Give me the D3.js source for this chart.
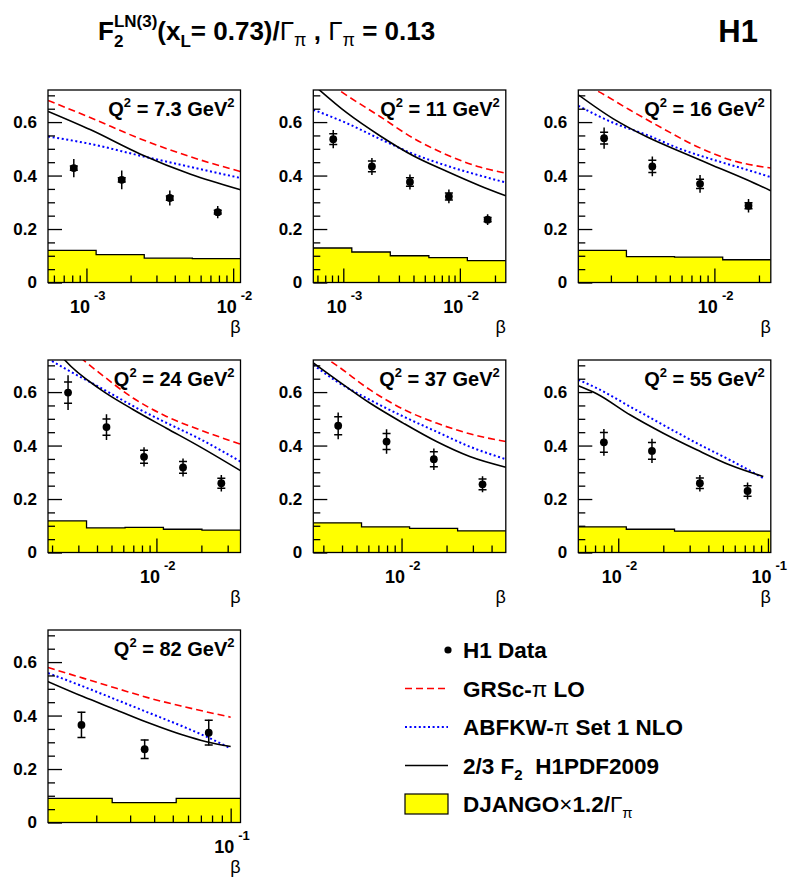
<!DOCTYPE html>
<html><head><meta charset="utf-8">
<script src="https://cdn.jsdelivr.net/npm/d3@7"></script>
<style>
body{margin:0;background:#fff;}
svg{display:block;}
text{font-family:"Liberation Sans", Arial, Helvetica, sans-serif;}
</style></head><body>
<svg id="c" width="790" height="877"></svg>
<script>
// ---------------- data ----------------
const q2Labels = ["7.3","11","16","24","37","55","82"];
const xDomains = [[5.47e-4,0.01122],[5.53e-4,0.02477],[1.205e-3,0.02404],[1.879e-3,0.03656],[2.57e-3,0.0498],[5.41e-3,0.1045],[0.01122,0.1125]];
const yDomain = [0, 0.72];
const yMajorTicks = [0,0.2,0.4,0.6];
const yTickLabels = ["0","0.2","0.4","0.6"];
const yMinorTicks = [0.05,0.1,0.15,0.25,0.3,0.35,0.45,0.5,0.55,0.65,0.7];

// H1 data points
const dataBeta = [
  [8.2e-4,1.74e-3,3.7e-3,7.85e-3],
  [8.2e-4,1.76e-3,3.73e-3,8.05e-3,1.73e-2],
  [1.8e-3,3.81e-3,8.0e-3,1.7e-2],
  [2.56e-3,4.63e-3,8.26e-3,1.507e-2,2.72e-2],
  [3.77e-3,7.94e-3,1.645e-2,3.48e-2],
  [8.02e-3,1.68e-2,3.51e-2,7.31e-2],
  [1.675e-2,3.57e-2,7.69e-2]
];
const dataF2 = [
  [0.428,0.384,0.316,0.263],
  [0.536,0.434,0.376,0.322,0.235],
  [0.540,0.434,0.369,0.287],
  [0.598,0.469,0.358,0.318,0.259],
  [0.474,0.415,0.349,0.255],
  [0.412,0.380,0.259,0.230],
  [0.365,0.274,0.336]
];
const dataStat = [
  [0.008,0.008,0.008,0.007],
  [0.020,0.020,0.016,0.013,0.008],
  [0.022,0.023,0.017,0.011],
  [0.040,0.030,0.024,0.022,0.019],
  [0.034,0.030,0.028,0.020],
  [0.037,0.031,0.020,0.020],
  [0.047,0.035,0.046]
];
const dataTot = [
  [0.034,0.035,0.028,0.023],
  [0.034,0.032,0.028,0.026,0.020],
  [0.040,0.037,0.033,0.025],
  [0.065,0.048,0.036,0.034,0.031],
  [0.050,0.046,0.040,0.030],
  [0.050,0.045,0.031,0.032],
  [0.049,0.036,0.048]
];

// DJANGO x1.2/Gamma_pi histogram
const djangoEdges = [
  [5.47e-4,1.164e-3,2.477e-3,5.27e-3,1.122e-2],
  [5.53e-4,1.183e-3,2.53e-3,5.42e-3,1.159e-2,2.477e-2],
  [1.205e-3,2.547e-3,5.38e-3,1.138e-2,2.404e-2],
  [1.879e-3,3.404e-3,6.166e-3,1.114e-2,2.018e-2,3.656e-2],
  [2.57e-3,5.4e-3,1.132e-2,2.371e-2,4.98e-2],
  [5.41e-3,1.132e-2,2.377e-2,4.98e-2,0.1045],
  [0.01122,0.0242,0.0521,0.1125]
];
const djangoVals = [
  [0.120,0.104,0.091,0.089],
  [0.129,0.114,0.100,0.093,0.082],
  [0.120,0.097,0.095,0.085],
  [0.118,0.092,0.094,0.087,0.084],
  [0.111,0.096,0.090,0.081],
  [0.096,0.087,0.080,0.080],
  [0.090,0.074,0.090]
];

// GRSc-pi LO
const grsBeta = [
  [5.48e-4,1.069e-3,2.339e-3,5.129e-3,1.122e-2],
  [5.53e-4,9.06e-4,1.069e-3,2.061e-3,3.981e-3,7.69e-3,1.483e-2,2.477e-2],
  [1.205e-3,1.563e-3,2.692e-3,4.519e-3,7.60e-3,1.276e-2,2.404e-2],
  [1.879e-3,3.221e-3,4.169e-3,6.966e-3,1.167e-2,1.950e-2,3.656e-2],
  [2.570e-3,3.236e-3,3.681e-3,6.137e-3,1.026e-2,1.714e-2,2.858e-2,4.977e-2],
  [],
  [1.122e-2,1.706e-2,2.547e-2,3.793e-2,5.649e-2,0.1]
];
const grsVals = [
  [0.681,0.616,0.537,0.470,0.415],
  [0.78,0.721,0.70,0.621,0.540,0.478,0.432,0.409],
  [0.75,0.721,0.645,0.575,0.509,0.459,0.428],
  [0.84,0.721,0.671,0.578,0.509,0.459,0.405],
  [0.76,0.721,0.70,0.609,0.536,0.484,0.444,0.415],
  [],
  [0.58,0.54,0.502,0.465,0.434,0.394]
];
// ABFKW-pi Set 1 NLO
const abfBeta = [
  [5.48e-4,1.069e-3,2.339e-3,5.129e-3,1.122e-2],
  [5.53e-4,1.069e-3,2.061e-3,3.981e-3,7.69e-3,1.483e-2,2.477e-2],
  [1.205e-3,2.080e-3,3.491e-3,5.86e-3,9.84e-3,1.656e-2,2.404e-2],
  [1.879e-3,2.495e-3,4.169e-3,6.966e-3,1.167e-2,1.950e-2,3.656e-2],
  [2.570e-3,3.681e-3,6.137e-3,1.026e-2,1.714e-2,2.858e-2,4.977e-2],
  [5.408e-3,7.178e-3,1.197e-2,2.0e-2,3.342e-2,5.572e-2,9.311e-2],
  [1.122e-2,1.706e-2,2.547e-2,3.793e-2,5.649e-2,7.482e-2,0.1]
];
const abfVals = [
  [0.546,0.518,0.474,0.432,0.391],
  [0.646,0.596,0.537,0.481,0.437,0.400,0.374],
  [0.661,0.597,0.552,0.500,0.459,0.422,0.394],
  [0.725,0.685,0.618,0.548,0.485,0.425,0.340],
  [0.702,0.640,0.571,0.509,0.452,0.396,0.349],
  [0.646,0.615,0.546,0.477,0.409,0.346,0.278],
  [0.559,0.509,0.459,0.409,0.359,0.321,0.277]
];
// 2/3 F2 H1PDF2009
const h1Beta = [
  [5.48e-4,1.069e-3,2.339e-3,5.129e-3,1.122e-2],
  [5.53e-4,1.069e-3,2.061e-3,3.981e-3,7.69e-3,1.483e-2,2.477e-2],
  [1.205e-3,2.080e-3,3.491e-3,5.86e-3,9.84e-3,1.656e-2,2.404e-2],
  [1.879e-3,2.432e-3,4.169e-3,6.966e-3,1.167e-2,1.950e-2,3.656e-2],
  [2.570e-3,3.681e-3,6.137e-3,1.026e-2,1.714e-2,2.858e-2,4.977e-2],
  [5.408e-3,7.178e-3,1.197e-2,2.0e-2,3.342e-2,5.572e-2,9.311e-2],
  [1.122e-2,1.706e-2,2.547e-2,3.793e-2,5.649e-2,7.482e-2,0.1]
];
const h1Vals = [
  [0.640,0.571,0.480,0.405,0.347],
  [0.74,0.635,0.549,0.474,0.416,0.362,0.324],
  [0.702,0.612,0.545,0.490,0.437,0.384,0.343],
  [0.80,0.72,0.612,0.535,0.465,0.396,0.306],
  [0.709,0.646,0.559,0.484,0.415,0.359,0.319],
  [0.624,0.594,0.515,0.446,0.384,0.327,0.284],
  [0.527,0.471,0.421,0.371,0.327,0.302,0.284]
];

// ---------------- layout ----------------
const colX = [48, 313.3, 578.3], rowY = [90, 360, 630];
const PW = 192.5, PH = 192.5;
const SANS = '"Liberation Sans", Arial, Helvetica, sans-serif';
const SERIF = '"Liberation Serif", "Times New Roman", serif';

const svg = d3.select("#c");
svg.append("rect").attr("width",790).attr("height",877).attr("fill","#fff");

function rich(parent, x, y, parts, anchor){
  const g = parent.append("g");
  let cur = 0, prevStart = 0;
  parts.forEach(p => {
    const sx = (p.stack ? prevStart : cur) + (p.dx||0);
    const t = g.append("text").attr("x", sx).attr("y", p.dy||0)
      .attr("font-size", p.size)
      .attr("font-weight", p.weight || "bold")
      .attr("font-family", p.serif ? SERIF : SANS)
      .attr("fill", "#000")
      .text(p.t);
    const w = t.node().getComputedTextLength();
    if (!p.stack) prevStart = sx;
    cur = Math.max(cur, sx + w);
  });
  const off = anchor === "end" ? -cur : anchor === "middle" ? -cur/2 : 0;
  g.attr("transform", `translate(${x+off},${y})`);
  return g;
}

function drawPanel(i){
  const c = i % 3, r = Math.floor(i/3);
  const g = svg.append("g").attr("transform", `translate(${colX[c]},${rowY[r]})`);
  const x = d3.scaleLog().domain(xDomains[i]).range([0, PW]);
  const y = d3.scaleLinear().domain(yDomain).range([PH, 0]);
  const cid = "clip" + i;
  g.append("clipPath").attr("id", cid).append("rect").attr("width", PW).attr("height", PH);
  const inner = g.append("g").attr("clip-path", `url(#${cid})`);

  // histogram
  const edges = djangoEdges[i], vals = djangoVals[i];
  const steps = [];
  vals.forEach((v,k) => { steps.push([edges[k], v]); steps.push([edges[k+1], v]); });
  inner.append("path").datum(steps)
    .attr("d", d3.area().x(d => x(d[0])).y0(y(0)).y1(d => y(d[1])))
    .attr("fill", "#ffff00");
  inner.append("path").datum(steps)
    .attr("d", d3.line().x(d => x(d[0])).y(d => y(d[1])))
    .attr("fill", "none").attr("stroke", "#000").attr("stroke-width", 1.3);

  // axes ticks
  const all = x.ticks();
  const isMajor = v => Math.abs(Math.log10(v) - Math.round(Math.log10(v))) < 1e-6;
  const majors = all.filter(isMajor), minors = all.filter(v => !isMajor(v));
  const styleAxis = sel => { sel.select(".domain").remove(); sel.selectAll("line").attr("stroke","#000").attr("stroke-width",1.3); };
  g.append("g").attr("transform", `translate(0,${PH})`)
    .call(d3.axisBottom(x).tickValues(minors).tickSize(-7).tickFormat(""))
    .call(styleAxis);
  g.append("g").attr("transform", `translate(0,${PH})`)
    .call(d3.axisBottom(x).tickValues(majors).tickSize(-14).tickFormat(""))
    .call(styleAxis);
  g.append("g")
    .call(d3.axisLeft(y).tickValues(yMinorTicks).tickSize(-7).tickFormat(""))
    .call(styleAxis);
  const ya = g.append("g")
    .call(d3.axisLeft(y).tickValues(yMajorTicks).tickSize(-14).tickPadding(11).tickFormat((d,k) => yTickLabels[k]))
    .call(styleAxis);
  ya.selectAll("text").attr("font-size", 17).attr("font-weight", "bold").attr("font-family", SANS).attr("fill","#000");

  // x tick labels 10^n
  majors.forEach(m => {
    const e = Math.round(Math.log10(m));
    g.append("text").attr("x", x(m) + 3.5).attr("y", PH + 30).attr("text-anchor","end")
      .attr("font-size", 18).attr("font-weight","bold").attr("font-family", SANS).text("10");
    g.append("text").attr("x", x(m) + 7.5).attr("y", PH + 17)
      .attr("font-size", 13).attr("font-weight","bold").attr("font-family", SANS).text(String(e));
  });
  g.append("text").attr("x", PW).attr("y", PH + 50).attr("text-anchor","end")
    .attr("font-size", 18).attr("font-family", SERIF).text("β");

  // curves
  const line = d3.line().x(d => x(d[0])).y(d => y(d[1])).curve(d3.curveMonotoneX);
  const curves = [
    [grsBeta[i], grsVals[i], "#ff0000", 1.6, "7,4"],
    [abfBeta[i], abfVals[i], "#0000ff", 2, "2,2.6"],
    [h1Beta[i], h1Vals[i], "#000000", 1.6, null]
  ];
  curves.forEach(([bs, vs, col, w, dash]) => {
    if (!bs.length) return;
    const pts = bs.map((b,k) => [b, vs[k]]);
    const p = inner.append("path").datum(pts).attr("d", line)
      .attr("fill","none").attr("stroke", col).attr("stroke-width", w);
    if (dash) p.attr("stroke-dasharray", dash);
  });

  // data points
  const pg = inner.append("g");
  dataBeta[i].forEach((b,k) => {
    const v = dataF2[i][k], st = dataStat[i][k], tt = dataTot[i][k];
    const px = x(b);
    pg.append("line").attr("x1", px).attr("x2", px).attr("y1", y(v - tt)).attr("y2", y(v + tt))
      .attr("stroke","#000").attr("stroke-width",1.5);
    [v - st, v + st].forEach(e => {
      pg.append("line").attr("x1", px - 4).attr("x2", px + 4).attr("y1", y(e)).attr("y2", y(e))
        .attr("stroke","#000").attr("stroke-width",1.5);
    });
    pg.append("circle").attr("cx", px).attr("cy", y(v)).attr("r", 3.9).attr("fill","#000");
  });

  // frame
  g.append("rect").attr("width", PW).attr("height", PH).attr("fill","none")
    .attr("stroke","#000").attr("stroke-width",1.3);

  // Q2 label
  rich(g, PW - 6, 26, [
    {t:"Q", size:20},
    {t:"2", size:13, dy:-9},
    {t:"\u00a0=\u00a0" + q2Labels[i] + "\u00a0GeV", size:20},
    {t:"2", size:13, dy:-9}
  ], "end");
}

for (let i = 0; i < q2Labels.length; i++) drawPanel(i);

// title
rich(svg, 98, 40, [
  {t:"F", size:26},
  {t:"2", size:17, dy:7},
  {t:"LN(3)", size:17, dy:-13, stack:true},
  {t:"(x", size:26},
  {t:"L", size:17, dy:7},
  {t:"=\u00a00.73)/", size:26},
  {t:"Γ", size:26, serif:true, weight:"normal"},
  {t:"π", size:18, dy:6, serif:true, weight:"normal"},
  {t:"\u00a0,\u00a0", size:26},
  {t:"Γ", size:26, serif:true, weight:"normal"},
  {t:"π", size:18, dy:6, serif:true, weight:"normal"},
  {t:"\u00a0=\u00a00.13", size:26}
], "start");
svg.append("text").attr("x", 758).attr("y", 42).attr("text-anchor","end")
  .attr("font-size", 31).attr("font-weight","bold").attr("font-family", SANS).text("H1");

// legend
const legRowY = [650, 688.5, 727, 765.5, 804];
const lg = svg.append("g");
const lx0 = 405, lx1 = 448, ltx = 463;
lg.append("circle").attr("cx", lx1).attr("cy", legRowY[0]).attr("r", 3.6).attr("fill","#000");
lg.append("line").attr("x1",lx0).attr("x2",lx1).attr("y1",legRowY[1]).attr("y2",legRowY[1])
  .attr("stroke","#ff0000").attr("stroke-width",1.6).attr("stroke-dasharray","7,4");
lg.append("line").attr("x1",lx0).attr("x2",lx1).attr("y1",legRowY[2]).attr("y2",legRowY[2])
  .attr("stroke","#0000ff").attr("stroke-width",2).attr("stroke-dasharray","2,2.6");
lg.append("line").attr("x1",lx0).attr("x2",lx1).attr("y1",legRowY[3]).attr("y2",legRowY[3])
  .attr("stroke","#000").attr("stroke-width",1.6);
lg.append("rect").attr("x",lx0).attr("y",legRowY[4]-10).attr("width",lx1-lx0).attr("height",20)
  .attr("fill","#ffff00").attr("stroke","#000").attr("stroke-width",1.2);

const LS = 22.5, LSS = 15;
rich(lg, ltx, legRowY[0] + 8, [{t:"H1 Data", size:LS}]);
rich(lg, ltx, legRowY[1] + 8, [{t:"GRSc-", size:LS}, {t:"π", size:LS, serif:true, weight:"normal"}, {t:"\u00a0LO", size:LS}]);
rich(lg, ltx, legRowY[2] + 8, [{t:"ABFKW-", size:LS}, {t:"π", size:LS, serif:true, weight:"normal"}, {t:"\u00a0Set 1 NLO", size:LS}]);
rich(lg, ltx, legRowY[3] + 8, [{t:"2/3 F", size:LS}, {t:"2", size:LSS, dy:6}, {t:"\u00a0\u00a0H1PDF2009", size:LS}]);
rich(lg, ltx, legRowY[4] + 8, [{t:"DJANGO", size:LS}, {t:"×", size:LS, serif:true, weight:"normal"}, {t:"1.2/", size:LS}, {t:"Γ", size:LS, serif:true, weight:"normal"}, {t:"π", size:LSS, dy:6, serif:true, weight:"normal"}]);
</script>
</body></html>
